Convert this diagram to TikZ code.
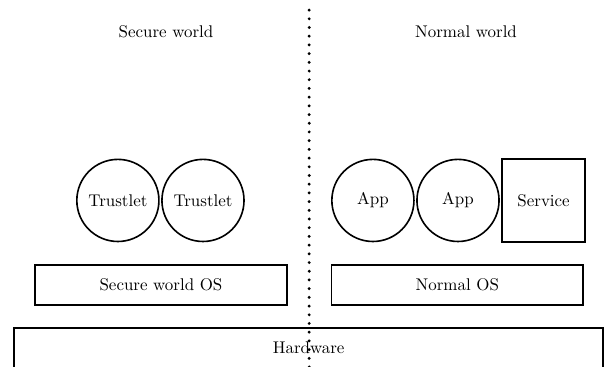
\documentclass[tikz,border=0pt]{standalone}
\usepackage{tikz}
\usetikzlibrary{positioning}

\begin{document}
\begin{tikzpicture}[every node/.style={font=\fontsize{10.5}{12}\selectfont}]
\tikzset{
  proc/.style={draw, circle, line width=1pt, minimum size=1.79cm, inner sep=0pt},
  osbox/.style={draw, rectangle, line width=1pt, minimum width=5.49cm, minimum height=0.87cm},
}
\useasboundingbox (0,0) rectangle (13.19,8.0);
\node (sw) at (3.62,7.30) {Secure world};
\node (nw) at (10.16,7.30) {Normal world};
\node[proc] (t1) at (2.57,3.63) {Trustlet};
\node[proc, right=0.03cm of t1] (t2) {Trustlet};
\node[proc] (a1) at (8.13,3.63) {App};
\node[proc, right=0.03cm of a1] (a2) {\raisebox{1pt}{App}};
\node[draw, rectangle, line width=1pt, minimum size=1.81cm, right=0.03cm of a2] (srv) {Service};
\node[osbox] (sos) at (3.51,1.79) {Secure world OS};
\node[osbox] (nos) at (9.97,1.79) {Normal OS};
\node[draw, rectangle, line width=1pt, minimum width=12.84cm, minimum height=0.89cm] (hw) at (6.73,0.41) {Hardware};
\coordinate (top) at (6.74,7.78);
\coordinate (bot) at (6.74,-0.1);
\draw[line width=2pt, line cap=round, dash pattern=on 0pt off 5.4pt] (top) -- (bot);
\end{tikzpicture}
\end{document}
